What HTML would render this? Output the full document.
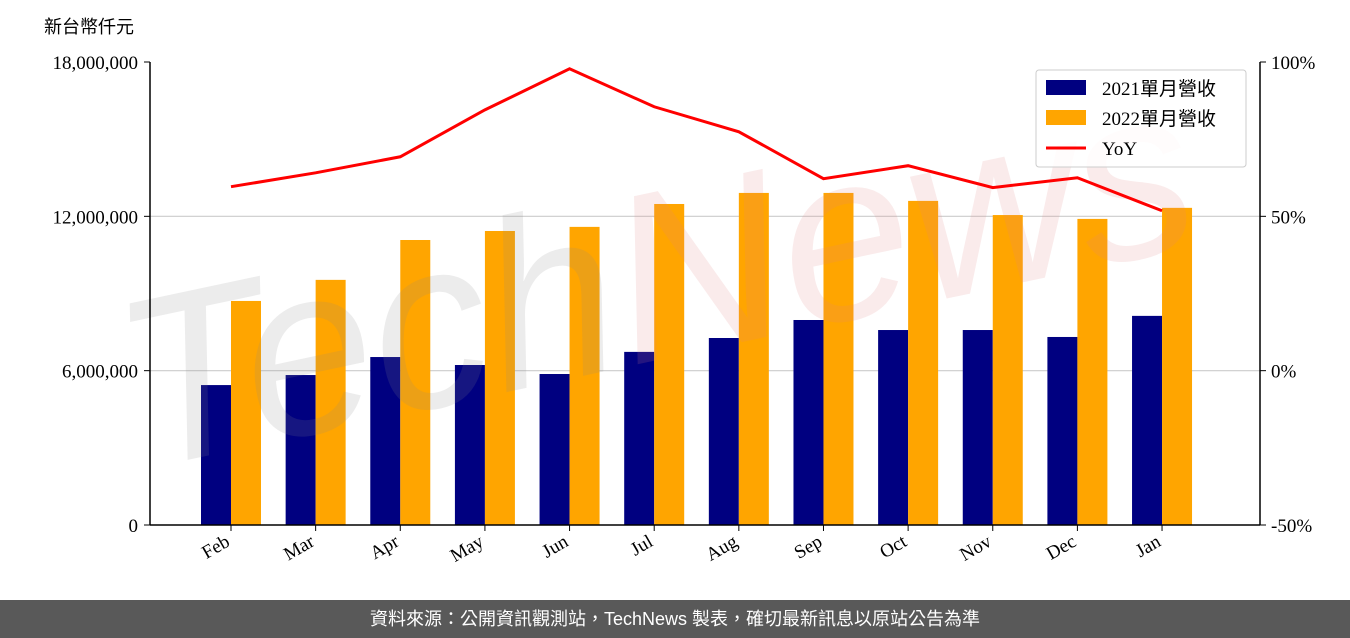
<!DOCTYPE html>
<html><head><meta charset="utf-8"><style>
body{margin:0;width:1350px;height:638px;background:#fff;overflow:hidden;font-family:"Liberation Serif","Noto Serif CJK SC",serif}
#footer{position:absolute;left:0;top:600px;width:1350px;height:38px;background:#595959;color:#fff;font:18px "Liberation Sans","Noto Sans CJK TC",sans-serif;text-align:center;line-height:38px}
</style></head><body>
<svg id="chart" width="1350" height="600" style="position:absolute;left:0;top:0">
<text x="44" y="33" font-size="18" font-family="Liberation Sans,Noto Sans CJK TC,sans-serif">新台幣仟元</text>
<g id="grid"></g><g id="bars"></g>
<g id="wm" transform="translate(140,470) rotate(-12)" font-family="Liberation Sans,sans-serif" font-style="italic" font-size="240">
<text x="0" y="0" textLength="1090" lengthAdjust="spacingAndGlyphs"><tspan fill="#888" fill-opacity="0.16">Tech</tspan><tspan fill="#e08080" fill-opacity="0.16">News</tspan></text></g>
<g id="line"></g><g id="axes"></g>
<g>
<rect x="1036" y="70" width="210" height="97" fill="#fff" fill-opacity="0.85" stroke="#ccc" rx="3"/>
<rect x="1046" y="80" width="40" height="15" fill="#000080"/><text x="1102" y="95" font-size="19" font-family="Liberation Serif,Noto Sans CJK TC,serif">2021單月營收</text>
<rect x="1046" y="110" width="40" height="15" fill="#ffa500"/><text x="1102" y="125" font-size="19" font-family="Liberation Serif,Noto Sans CJK TC,serif">2022單月營收</text>
<line x1="1046" y1="148" x2="1086" y2="148" stroke="red" stroke-width="3"/><text x="1102" y="155" font-size="19">YoY</text>
</g>
</svg>
<div id="footer">資料來源：公開資訊觀測站，TechNews 製表，確切最新訊息以原站公告為準</div>
<script>
const categories=["Feb","Mar","Apr","May","Jun","Jul","Aug","Sep","Oct","Nov","Dec","Jan"];
const rev2021=[5440000,5830000,6530000,6220000,5870000,6730000,7270000,7970000,7580000,7580000,7310000,8130000];
const rev2022=[8710000,9530000,11080000,11430000,11590000,12480000,12910000,12910000,12600000,12050000,11900000,12330000];
const yoy=[59.6,64.1,69.3,84.5,97.8,85.5,77.4,62.2,66.4,59.3,62.5,51.8];
const leftTicks=[0,6000000,12000000,18000000];
const leftLabels=["0","6,000,000","12,000,000","18,000,000"];
const rightTicks=[-50,0,50,100];
const rightLabels=["-50%","0%","50%","100%"];
const NS="http://www.w3.org/2000/svg";
const X0=150,X1=1260,Y0=525,Y1=62;
const yL=v=>Y0-(v/18000000)*(Y0-Y1);
const yR=v=>Y0-((v+50)/150)*(Y0-Y1);
const xC=i=>231+i*84.64;
function mk(t,a,p){const e=document.createElementNS(NS,t);for(const k in a)e.setAttribute(k,a[k]);p.appendChild(e);return e;}
const grid=document.getElementById('grid'),bars=document.getElementById('bars'),line=document.getElementById('line'),axes=document.getElementById('axes');
leftTicks.forEach((v,i)=>{
 if(i>0&&i<leftTicks.length-1){const g=mk('line',{x1:X0,x2:X1,y1:yL(v),y2:yL(v),stroke:'#ccc','stroke-width':1.2},grid);
 
 }
 mk('line',{x1:X0-6,x2:X0,y1:yL(v),y2:yL(v),stroke:'#000'},axes);
 const t=mk('text',{x:X0-12,y:yL(v)+7,'text-anchor':'end','font-size':19},axes);t.textContent=leftLabels[i];
 
 
});
rightTicks.forEach((v,i)=>{
 mk('line',{x1:X1,x2:X1+6,y1:yR(v),y2:yR(v),stroke:'#000'},axes);
 const t=mk('text',{x:X1+11,y:yR(v)+7,'font-size':19},axes);t.textContent=rightLabels[i];
 
 
});
categories.forEach((c,i)=>{
 const x=xC(i);
 const b1=mk('rect',{x:x-30,y:yL(rev2021[i]),width:30,height:Y0-yL(rev2021[i]),fill:'#000080'},bars);
 
 
 const b2=mk('rect',{x:x,y:yL(rev2022[i]),width:30,height:Y0-yL(rev2022[i]),fill:'#ffa500'},bars);
 
 
 mk('line',{x1:x,x2:x,y1:Y0,y2:Y0+6,stroke:'#000'},axes);
 const t=mk('text',{x:x,y:Y0+20,'text-anchor':'end','font-size':19,transform:`rotate(-30 ${x} ${Y0+20})`},axes);t.textContent=c;
 
 
});
const pl=mk('polyline',{points:yoy.map((v,i)=>xC(i)+','+yR(v)).join(' '),fill:'none',stroke:'red','stroke-width':3},line);


mk('line',{x1:X0,x2:X0,y1:Y1,y2:Y0,stroke:'#000','stroke-width':1.5},axes);
mk('line',{x1:X1,x2:X1,y1:Y1,y2:Y0,stroke:'#000','stroke-width':1.5},axes);
mk('line',{x1:X0,x2:X1,y1:Y0,y2:Y0,stroke:'#000','stroke-width':1.5},axes);
</script>
</body></html>
